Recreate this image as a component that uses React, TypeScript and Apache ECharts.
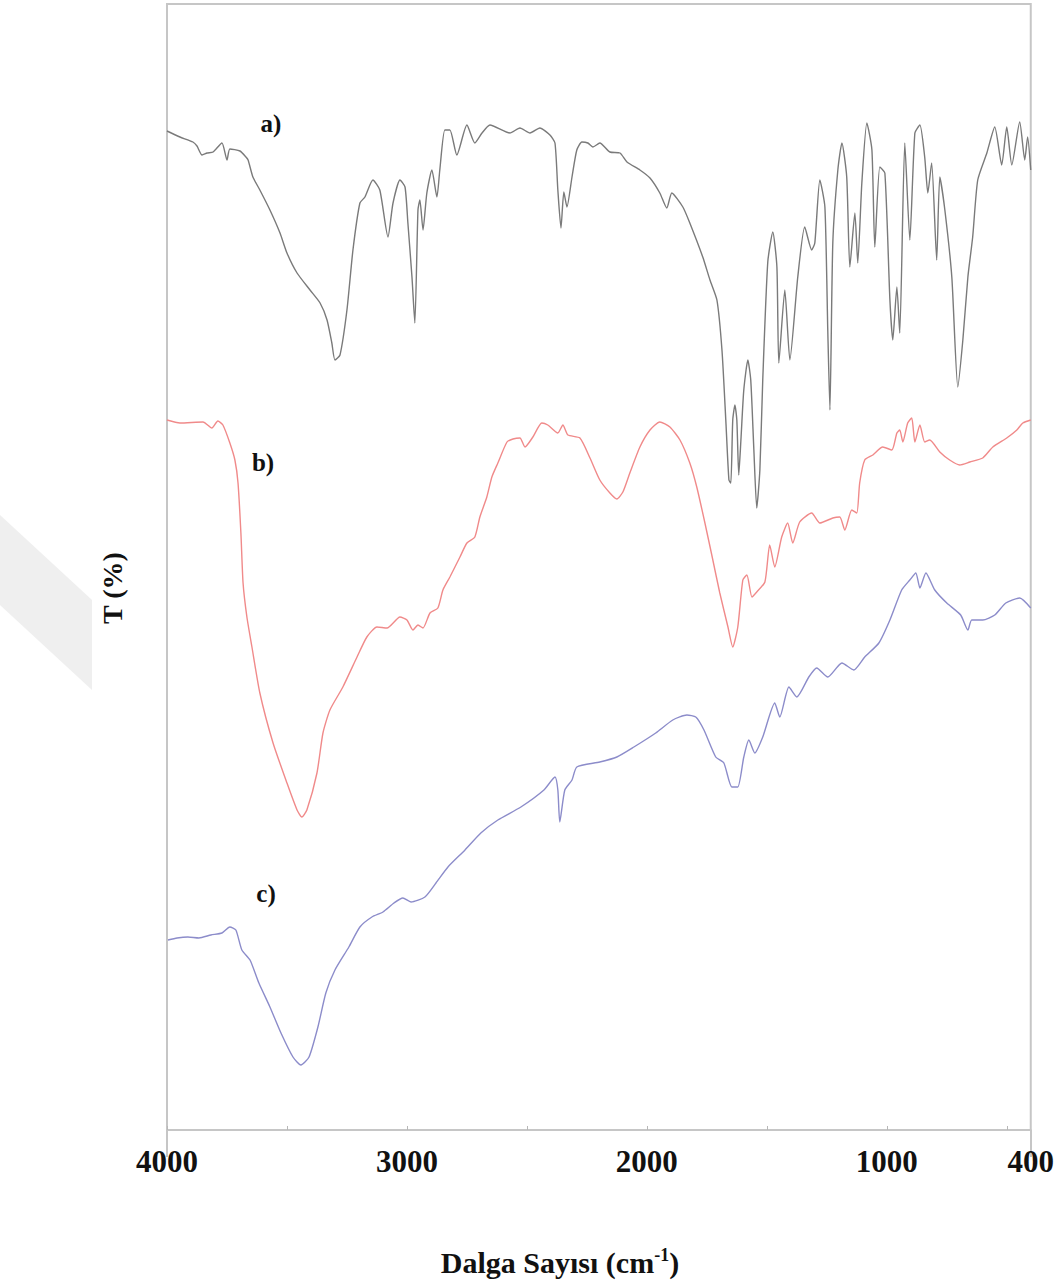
import React, { useEffect, useRef } from "react";
import * as echarts from "echarts";

// Wavenumbers (cm-1) and transmittance (arbitrary %, offset spectra)
const aWn = [4000,3946,3892,3875,3854,3833,3808,3771,3750,3738,3696,3671,3662,3642,3613,3571,3529,3500,3458,3404,3362,3333,3313,3300,3279,3250,3225,3196,3175,3142,3113,3079,3058,3029,3008,2996,2979,2967,2954,2946,2933,2917,2896,2875,2863,2842,2821,2792,2750,2717,2687,2654,2571,2529,2487,2446,2404,2383,2371,2358,2346,2333,2312,2292,2271,2246,2225,2196,2154,2112,2083,2029,1987,1946,1917,1896,1850,1821,1767,1737,1708,1687,1671,1658,1650,1642,1633,1625,1617,1608,1596,1579,1567,1554,1542,1529,1517,1496,1475,1458,1450,1425,1404,1371,1342,1313,1300,1279,1258,1246,1237,1225,1204,1187,1167,1154,1133,1121,1104,1083,1062,1050,1029,1008,987,975,958,946,925,904,883,862,842,829,813,792,779,758,729,704,683,662,642,621,583,550,521,500,479,446,425,413,400];
const aT = [99.9,99.3,98.8,98.4,97.5,97.7,97.8,98.7,97.0,98.1,97.9,97.3,97.0,95.3,94.0,92.0,89.7,87.7,85.7,84.0,82.7,81.0,78.7,77.0,77.5,82.0,88.0,92.7,93.3,95.0,94.0,89.3,92.7,95.0,94.3,90.7,85.3,80.7,92.0,93.0,90.0,93.7,96.0,93.3,96.0,100.0,100.0,97.5,100.5,98.7,99.7,100.5,99.7,100.2,99.7,100.2,99.5,98.7,94.0,90.2,93.8,92.3,95.3,98.0,98.8,98.7,98.3,98.7,97.8,97.7,96.8,96.0,95.2,93.7,92.2,93.7,92.3,90.7,87.3,85.0,83.0,78.0,71.0,65.0,64.7,71.0,72.5,71.0,65.5,69.0,74.0,77.0,75.0,68.0,62.2,66.0,75.0,86.8,89.8,86.3,76.7,84.0,77.0,85.3,90.3,88.0,88.7,95.0,92.3,80.0,72.0,88.7,96.0,98.7,95.3,86.3,91.7,86.7,94.7,100.7,98.0,88.3,96.3,95.7,83.0,79.0,84.3,79.7,98.7,89.0,99.7,100.5,97.3,93.7,96.7,87.0,95.3,92.0,85.3,74.3,79.0,85.3,89.3,95.0,97.7,100.3,96.5,100.3,96.5,100.8,97.0,99.3,96.0];

const bWn = [4000,3946,3850,3813,3788,3767,3738,3717,3704,3692,3683,3667,3646,3613,3558,3500,3458,3438,3417,3375,3350,3321,3267,3208,3167,3125,3083,3029,3000,2975,2954,2933,2904,2871,2850,2821,2779,2750,2717,2696,2667,2646,2621,2583,2558,2529,2508,2475,2438,2413,2371,2350,2329,2279,2237,2196,2154,2125,2100,2071,2029,1987,1946,1904,1862,1821,1792,1758,1725,1696,1662,1642,1621,1600,1583,1562,1542,1508,1488,1467,1438,1413,1392,1363,1313,1279,1225,1196,1175,1146,1125,1113,1092,1058,1017,979,958,946,933,913,896,883,862,842,821,779,738,696,654,600,558,500,458,433,400];
const bT = [71.0,70.7,70.8,70.2,70.9,70.5,68.7,67.0,64.7,59.7,54.7,51.3,48.3,43.7,38.7,34.7,32.0,31.3,32.0,35.7,39.7,42.0,44.3,47.3,49.3,50.3,50.2,51.3,51.0,50.0,50.5,50.2,51.7,52.2,54.0,55.3,57.3,58.7,59.3,61.3,63.3,65.3,66.7,68.8,69.1,69.2,68.3,69.3,70.7,70.5,69.7,70.5,69.5,69.2,67.2,65.0,63.7,63.1,63.8,65.7,68.3,70.0,70.8,70.3,69.0,66.7,64.3,60.7,57.0,53.7,50.3,48.3,50.3,55.0,55.5,53.3,53.8,54.8,58.5,56.3,59.3,60.7,58.7,60.8,61.7,60.7,61.2,61.3,60.0,62.0,61.7,64.7,67.0,67.5,68.3,68.0,69.7,70.0,68.8,70.7,71.2,68.8,70.5,68.8,69.0,67.8,67.0,66.5,66.8,67.2,68.3,69.2,70.0,70.7,71.0];

const cWn = [3996,3958,3913,3867,3817,3771,3738,3713,3688,3654,3617,3571,3525,3475,3442,3408,3371,3338,3300,3242,3196,3146,3100,3054,3017,2983,2925,2879,2829,2758,2692,2621,2525,2429,2383,2371,2363,2342,2312,2292,2196,2125,2054,1963,1892,1833,1796,1762,1713,1679,1646,1621,1596,1575,1550,1517,1467,1446,1408,1375,1325,1292,1246,1187,1138,1092,1033,987,938,904,879,862,837,800,750,692,662,646,600,550,504,446,400];
const cT = [19.0,19.2,19.3,19.2,19.5,19.7,20.3,20.0,18.0,17.0,14.7,12.3,9.7,7.3,6.5,7.3,10.3,13.7,16.0,18.3,20.3,21.3,21.8,22.7,23.2,22.8,23.3,24.7,26.3,28.0,29.7,31.0,32.3,34.0,35.3,34.0,30.8,34.0,35.0,36.3,36.8,37.3,38.3,39.7,41.0,41.5,41.3,40.0,37.3,36.7,34.3,34.3,37.3,39.0,37.7,39.3,42.7,41.3,44.3,43.3,45.3,46.2,45.3,46.7,46.0,47.3,48.7,51.0,54.0,55.0,55.7,54.2,55.7,54.0,52.7,51.5,50.0,51.0,51.0,51.5,52.7,53.2,52.2];

const xTickValues = [4000, 3500, 3000, 2500, 2000, 1500, 1000, 500];
const xLabelValues = [4000, 3000, 2000, 1000, 400];
const seriesNames = ["a)", "b)", "c)"];
const seriesColors = ["#7a7a7a", "#f08a8a", "#8c8cca"];

const zip = (xs: number[], ys: number[]) => xs.map((x, i) => [x, ys[i]]);

export default function App() {
  const ref = useRef<HTMLDivElement>(null);
  useEffect(() => {
    if (!ref.current) return;
    const chart = echarts.init(ref.current, null, { renderer: "svg" });
    const serif = "'Liberation Serif', 'Times New Roman', serif";
    const datasets = [zip(aWn, aT), zip(bWn, bT), zip(cWn, cT)];
    chart.setOption({
      animation: false,
      backgroundColor: "#ffffff",
      grid: {
        left: 167,
        right: 26,
        top: 4,
        bottom: 153,
        show: true,
        borderColor: "#c6c6c6",
        borderWidth: 2,
        backgroundColor: "transparent",
      },
      xAxis: {
        type: "value",
        min: 400,
        max: 4000,
        inverse: true,
        axisLine: { show: true, lineStyle: { color: "#c6c6c6", width: 2 } },
        axisTick: {
          show: true,
          inside: true,
          length: 4,
          customValues: xTickValues,
          lineStyle: { color: "#b8b8b8", width: 1 },
        },
        axisLabel: {
          customValues: xLabelValues,
          formatter: (v: number) => String(v),
          fontFamily: serif,
          fontWeight: "bold",
          fontSize: 31,
          color: "#111111",
          margin: 16,
        },
        splitLine: { show: false },
      },
      yAxis: {
        type: "value",
        min: 0,
        max: 112.6,
        axisLine: { show: false },
        axisTick: { show: false },
        axisLabel: { show: false },
        splitLine: { show: false },
      },
      series: datasets.map((d, i) => ({
        name: seriesNames[i],
        type: "line",
        data: d,
        showSymbol: false,
        smooth: 0.2,
        lineStyle: { color: seriesColors[i], width: 1.4 },
        itemStyle: { color: seriesColors[i] },
        z: 3,
      })),
      graphic: [
        {
          type: "polygon",
          z: -10,
          shape: { points: [[0, 515], [92, 600], [92, 690], [0, 605]] },
          style: { fill: "#efefef" },
        },
        {
          type: "line",
          shape: { x1: 167, y1: 1130, x2: 167, y2: 1157 },
          style: { stroke: "#c6c6c6", lineWidth: 2 },
        },
        {
          type: "line",
          shape: { x1: 1031, y1: 1130, x2: 1031, y2: 1157 },
          style: { stroke: "#c6c6c6", lineWidth: 2 },
        },
        {
          type: "text",
          x: 271,
          y: 123,
          style: { text: "a)", font: `bold 25px ${serif}`, fill: "#111", align: "center", verticalAlign: "middle" },
        },
        {
          type: "text",
          x: 263,
          y: 462,
          style: { text: "b)", font: `bold 25px ${serif}`, fill: "#111", align: "center", verticalAlign: "middle" },
        },
        {
          type: "text",
          x: 266,
          y: 893,
          style: { text: "c)", font: `bold 25px ${serif}`, fill: "#111", align: "center", verticalAlign: "middle" },
        },
        {
          type: "text",
          x: 112,
          y: 588,
          rotation: Math.PI / 2,
          style: { text: "T (%)", font: `bold 28px ${serif}`, fill: "#111", align: "center", verticalAlign: "middle" },
        },
        {
          type: "text",
          x: 560,
          y: 1262,
          style: {
            text: "{n|Dalga Sayısı (cm}{s|-1}{n|)}",
            align: "center",
            verticalAlign: "middle",
            rich: {
              n: { fontFamily: serif, fontWeight: "bold", fontSize: 30, lineHeight: 32, fill: "#111" },
              s: { fontFamily: serif, fontWeight: "bold", fontSize: 18, lineHeight: 18, verticalAlign: "top", fill: "#111" },
            },
          },
        },
      ],
    });
    return () => chart.dispose();
  }, []);
  return (
    <div
      ref={ref}
      style={{ position: "absolute", left: 0, top: 0, width: 1057, height: 1283 }}
    />
  );
}
